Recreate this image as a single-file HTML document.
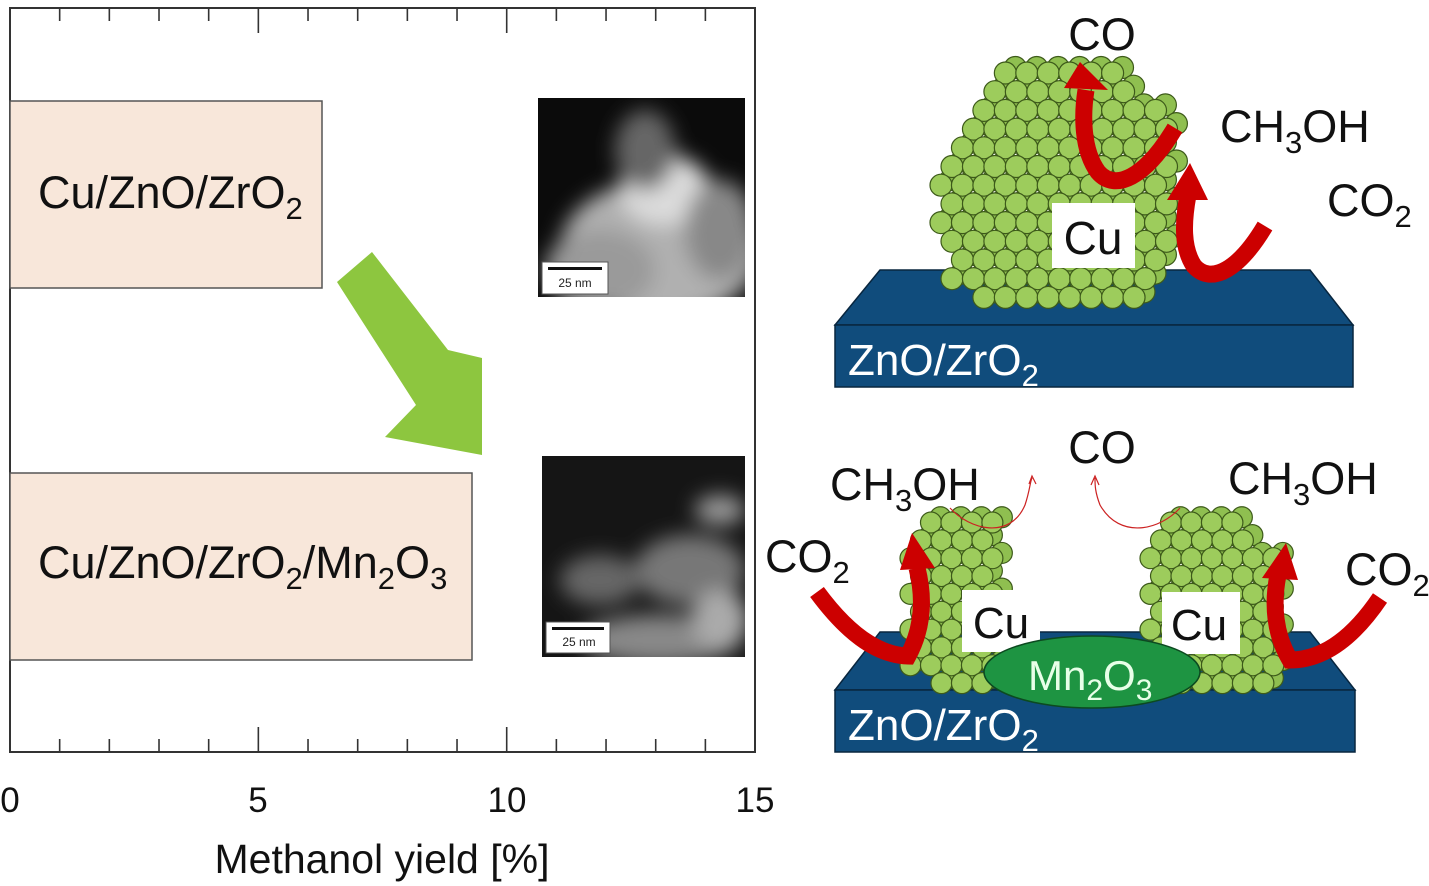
<!DOCTYPE html>
<html><head><meta charset="utf-8"><style>
html,body{margin:0;padding:0;background:#fff;}
svg{display:block}
text{font-family:"Liberation Sans",sans-serif;}
</style></head><body>
<svg id="s" width="1429" height="886" viewBox="0 0 1429 886" xmlns="http://www.w3.org/2000/svg">
<defs>
<filter id="bl" x="-50%" y="-50%" width="200%" height="200%"><feGaussianBlur stdDeviation="10"/></filter>
<clipPath id="c1"><rect x="538" y="98" width="207" height="199"/></clipPath>
<clipPath id="c2"><rect x="542" y="456" width="203" height="201"/></clipPath>
</defs>
<!-- chart frame -->
<rect x="10" y="8" width="745" height="744" fill="none" stroke="#333" stroke-width="2"/>
<g id="ticks" stroke="#333" stroke-width="1.6"></g>
<rect x="10" y="101" width="312" height="187" fill="#f8e7da" stroke="#555" stroke-width="1.5"/>
<rect x="10" y="473" width="462" height="187" fill="#f8e7da" stroke="#555" stroke-width="1.5"/>
<text x="38" y="208" font-size="45" fill="#111">Cu/ZnO/ZrO<tspan font-size="31" dy="11">2</tspan></text>
<text x="38" y="578" font-size="45" fill="#111">Cu/ZnO/ZrO<tspan font-size="31" dy="11">2</tspan><tspan dy="-11">/Mn</tspan><tspan font-size="31" dy="11">2</tspan><tspan dy="-11">O</tspan><tspan font-size="31" dy="11">3</tspan></text>
<g font-size="35" fill="#111" text-anchor="middle">
<text x="10" y="812">0</text><text x="258" y="812">5</text><text x="507" y="812">10</text><text x="755" y="812">15</text>
</g>
<text x="382" y="873" font-size="41" text-anchor="middle" fill="#111">Methanol yield [%]</text>
<!-- green arrow -->
<polygon points="337,282 372,252 448,350 482,358 482,455 385,437 416,405" fill="#8dc63f"/>
<!-- TEM 1 -->
<rect x="538" y="98" width="207" height="199" fill="#0b0b0b"/>
<g clip-path="url(#c1)" filter="url(#bl)">
<ellipse cx="660" cy="250" rx="100" ry="70" fill="#b0b0b0"/>
<ellipse cx="665" cy="190" rx="45" ry="35" fill="#dcdcdc"/>
<ellipse cx="600" cy="270" rx="55" ry="40" fill="#9a9a9a"/>
<ellipse cx="645" cy="150" rx="30" ry="40" fill="#666"/>
<ellipse cx="720" cy="230" rx="35" ry="50" fill="#888"/>
</g>
<rect x="542" y="262" width="66" height="32" fill="#fff" stroke="#555"/>
<rect x="548" y="267" width="54" height="3" fill="#111"/>
<text x="575" y="287" font-size="12" text-anchor="middle" fill="#222">25 nm</text>
<!-- TEM 2 -->
<rect x="542" y="456" width="203" height="201" fill="#151515"/>
<g clip-path="url(#c2)" filter="url(#bl)">
<ellipse cx="690" cy="570" rx="55" ry="35" fill="#777"/>
<ellipse cx="600" cy="580" rx="40" ry="25" fill="#666"/>
<ellipse cx="660" cy="640" rx="80" ry="25" fill="#888"/>
<ellipse cx="720" cy="510" rx="25" ry="15" fill="#999"/>
<ellipse cx="720" cy="620" rx="28" ry="30" fill="#aaa"/>
</g>
<rect x="546" y="622" width="64" height="31" fill="#fff" stroke="#555"/>
<rect x="552" y="627" width="52" height="3" fill="#111"/>
<text x="579" y="646" font-size="12" text-anchor="middle" fill="#222">25 nm</text>

<!-- top right scheme -->
<polygon points="835,325 880,270 1310,270 1353,325" fill="#104c7c" stroke="#08263f" stroke-width="1.5"/>
<rect x="835" y="325" width="518" height="62" fill="#104c7c" stroke="#08263f" stroke-width="1.5"/>
<text x="848" y="375" font-size="44" fill="#fff">ZnO/ZrO<tspan font-size="31" dy="11">2</tspan></text>
<g id="atoms1"></g>
<rect x="1052" y="203" width="83" height="65" fill="#fff"/>
<text x="1093" y="254" font-size="46" text-anchor="middle" fill="#111">Cu</text>
<g fill="none" stroke="#c00" stroke-width="17">
<path d="M1175,128 C1145,178 1115,192 1098,172 C1082,150 1082,115 1086,90"/>
<path d="M1265,226 C1240,268 1212,286 1194,266 C1182,248 1183,222 1188,195"/>
</g>
<g fill="#c00">
<polygon points="1064,88 1108,90 1080,62"/>
<polygon points="1167,200 1208,200 1190,163"/>
</g>
<text x="1102" y="50" font-size="45" text-anchor="middle" fill="#111">CO</text>
<text x="1220" y="142" font-size="45" fill="#111">CH<tspan font-size="31" dy="11">3</tspan><tspan dy="-11">OH</tspan></text>
<text x="1327" y="216" font-size="45" fill="#111">CO<tspan font-size="31" dy="11">2</tspan></text>

<!-- bottom right scheme -->
<polygon points="835,690 880,632 1310,632 1355,690" fill="#104c7c" stroke="#08263f" stroke-width="1.5"/>
<rect x="835" y="690" width="520" height="62" fill="#104c7c" stroke="#08263f" stroke-width="1.5"/>
<g id="atoms2"></g>
<g id="atoms3"></g>
<rect x="962" y="590" width="78" height="62" fill="#fff"/>
<rect x="1162" y="592" width="78" height="62" fill="#fff"/>
<text x="1001" y="638" font-size="44" text-anchor="middle" fill="#111">Cu</text>
<text x="1199" y="640" font-size="44" text-anchor="middle" fill="#111">Cu</text>
<ellipse cx="1092" cy="672" rx="108" ry="36" fill="#1e9442" stroke="#0c4a20" stroke-width="1.5"/>
<text x="1028" y="690" font-size="42" fill="#e8ffe8">Mn<tspan font-size="30" dy="10">2</tspan><tspan dy="-10">O</tspan><tspan font-size="30" dy="10">3</tspan></text>
<text x="848" y="740" font-size="44" fill="#fff">ZnO/ZrO<tspan font-size="31" dy="11">2</tspan></text>
<g fill="none" stroke="#c00" stroke-width="17">
<path d="M817,592 C845,630 875,655 908,656 C922,630 925,600 917,568"/>
<path d="M1380,598 C1355,635 1325,660 1290,660 C1275,635 1272,605 1278,575"/>
</g>
<g fill="#c00">
<polygon points="900,570 935,568 912,533"/>
<polygon points="1262,578 1298,580 1286,543"/>
</g>
<g fill="none" stroke="#c22" stroke-width="1.2">
<path d="M950,508 C970,530 1010,540 1025,505 C1030,490 1030,482 1032,478"/>
<path d="M1029,484 L1032,476 L1036,484"/>
<path d="M1180,508 C1160,530 1120,540 1100,505 C1095,492 1095,485 1095,478"/>
<path d="M1091,485 L1095,476 L1099,485"/>
</g>
<text x="1102" y="463" font-size="45" text-anchor="middle" fill="#111">CO</text>
<text x="830" y="500" font-size="45" fill="#111">CH<tspan font-size="31" dy="11">3</tspan><tspan dy="-11">OH</tspan></text>
<text x="1228" y="494" font-size="45" fill="#111">CH<tspan font-size="31" dy="11">3</tspan><tspan dy="-11">OH</tspan></text>
<text x="765" y="572" font-size="45" fill="#111">CO<tspan font-size="31" dy="11">2</tspan></text>
<text x="1345" y="585" font-size="45" fill="#111">CO<tspan font-size="31" dy="11">2</tspan></text>
</svg>
<script>
var NS="http://www.w3.org/2000/svg";
var t=document.getElementById("ticks");
for(var i=1;i<15;i++){var x=10+i*49.67,L=(i%5==0)?25:13;
 [[752,752-L],[8,8+L]].forEach(function(p){var l=document.createElementNS(NS,"line");l.setAttribute("x1",x);l.setAttribute("x2",x);l.setAttribute("y1",p[0]);l.setAttribute("y2",p[1]);t.appendChild(l);});}
function inside(pt,poly){var x=pt[0],y=pt[1],c=false;for(var i=0,j=poly.length-1;i<poly.length;j=i++){var xi=poly[i][0],yi=poly[i][1],xj=poly[j][0],yj=poly[j][1];if(((yi>y)!=(yj>y))&&(x<(xj-xi)*(y-yi)/(yj-yi)+xi))c=!c;}return c;}
function layer(g,poly,r,dx,dy,fill){var xs=poly.map(function(p){return p[0]}),ys=poly.map(function(p){return p[1]});
 var x0=Math.min.apply(0,xs),x1=Math.max.apply(0,xs),y0=Math.min.apply(0,ys),y1=Math.max.apply(0,ys);var row=0;
 for(var y=y0+r;y<=y1-r*0.5;y+=r*1.7){var off=(row%2)*r;
  for(var x=x0+off+r;x<=x1-r*0.5;x+=r*1.95){if(!inside([x,y],poly))continue;var c=document.createElementNS(NS,"circle");c.setAttribute("cx",x+dx);c.setAttribute("cy",y+dy);c.setAttribute("r",r);c.setAttribute("fill",fill);c.setAttribute("stroke","#3d5a1a");c.setAttribute("stroke-width","1.2");g.appendChild(c);}
  row++;}}
function atoms(id,poly,r){var g=document.getElementById(id);
 layer(g,poly,r,r*0.9,-r*0.5,"#8fbf50");layer(g,poly,r,0,0,"#9dcc5c");}
atoms("atoms1",[[1005,62],[1125,62],[1170,130],[1182,240],[1150,300],[1100,318],[1010,318],[950,288],[930,220],[948,140]],11);
atoms("atoms2",[[925,512],[990,512],[1008,560],[1008,695],[935,695],[903,660],[900,570]],10.5);
atoms("atoms3",[[1160,512],[1240,512],[1285,570],[1288,660],[1265,695],[1160,695],[1140,630],[1140,560]],10.5);
</script>
</body></html>
